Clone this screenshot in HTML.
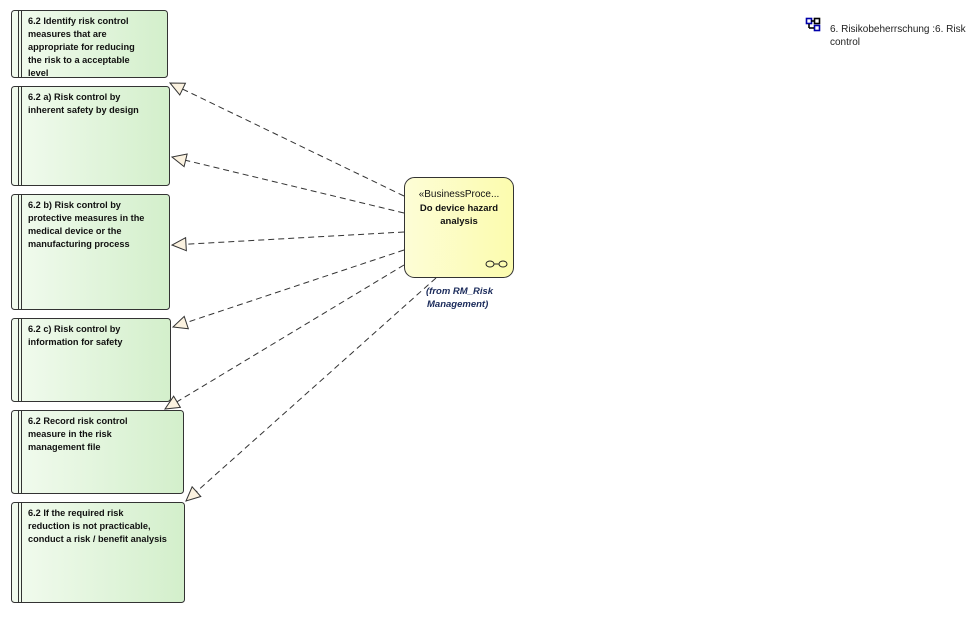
<!DOCTYPE html>
<html><head><meta charset="utf-8"><style>
body{margin:0;background:#fff;width:979px;height:612px;overflow:hidden;font-family:"Liberation Sans",sans-serif}
</style></head><body>
<svg width="979" height="612" xmlns="http://www.w3.org/2000/svg" font-family="Liberation Sans, sans-serif">
<defs>
<linearGradient id="g" x1="0" x2="1" y1="0" y2="0"><stop offset="0" stop-color="#f2fbef"/><stop offset="1" stop-color="#d3efcb"/></linearGradient>
<linearGradient id="y" x1="0" x2="1" y1="0" y2="0"><stop offset="0" stop-color="#fdfdd6"/><stop offset="1" stop-color="#fcfcae"/></linearGradient>
<marker id="a" markerUnits="userSpaceOnUse" markerWidth="18" markerHeight="16" refX="16" refY="8" orient="auto"><path d="M2,1.5 L16,8 L2,14.5 Z" fill="#fbf2e0" stroke="#333" stroke-width="1"/></marker>
</defs>
<g fill="url(#g)" stroke="#333" stroke-width="1">
<rect x="11.5" y="10.5" width="156" height="67" rx="3"/>
<rect x="11.5" y="86.5" width="158" height="99" rx="3"/>
<rect x="11.5" y="194.5" width="158" height="115" rx="3"/>
<rect x="11.5" y="318.5" width="159" height="83" rx="3"/>
<rect x="11.5" y="410.5" width="172" height="83" rx="3"/>
<rect x="11.5" y="502.5" width="173" height="100" rx="3"/>
</g>
<g stroke="#333" stroke-width="1">
<line x1="18.5" y1="11" x2="18.5" y2="77"/><line x1="21.5" y1="11" x2="21.5" y2="77"/>
<line x1="18.5" y1="87" x2="18.5" y2="185"/><line x1="21.5" y1="87" x2="21.5" y2="185"/>
<line x1="18.5" y1="195" x2="18.5" y2="309"/><line x1="21.5" y1="195" x2="21.5" y2="309"/>
<line x1="18.5" y1="319" x2="18.5" y2="401"/><line x1="21.5" y1="319" x2="21.5" y2="401"/>
<line x1="18.5" y1="411" x2="18.5" y2="493"/><line x1="21.5" y1="411" x2="21.5" y2="493"/>
<line x1="18.5" y1="503" x2="18.5" y2="602"/><line x1="21.5" y1="503" x2="21.5" y2="602"/>
</g>
<g font-size="9.2" font-weight="bold" fill="#111">
<text x="28" y="24">6.2 Identify risk control</text><text x="28" y="37">measures that are</text><text x="28" y="50">appropriate for reducing</text><text x="28" y="63">the risk to a acceptable</text><text x="28" y="76">level</text>
<text x="28" y="100">6.2 a) Risk control by</text><text x="28" y="113">inherent safety by design</text>
<text x="28" y="208">6.2 b) Risk control by</text><text x="28" y="221">protective measures in the</text><text x="28" y="234">medical device or the</text><text x="28" y="247">manufacturing process</text>
<text x="28" y="332">6.2 c) Risk control by</text><text x="28" y="345">information for safety</text>
<text x="28" y="424">6.2 Record risk control</text><text x="28" y="437">measure in the risk</text><text x="28" y="450">management file</text>
<text x="28" y="516">6.2 If the required risk</text><text x="28" y="529">reduction is not practicable,</text><text x="28" y="542">conduct a risk / benefit analysis</text>
</g>
<g stroke="#333" stroke-width="1" stroke-dasharray="6,4" fill="none" marker-end="url(#a)">
<line x1="404" y1="196" x2="170" y2="83"/>
<line x1="404" y1="213" x2="172" y2="157"/>
<line x1="404" y1="232" x2="172" y2="245"/>
<line x1="404" y1="250" x2="173" y2="327"/>
<line x1="404" y1="265" x2="165" y2="409"/>
<line x1="436" y1="278" x2="186" y2="501"/>
</g>
<rect x="404.5" y="177.5" width="109" height="100" rx="10" fill="url(#y)" stroke="#333"/>
<text x="459" y="197" font-size="10" text-anchor="middle" fill="#111">«BusinessProce...</text>
<text x="459" y="211" font-size="9.5" font-weight="bold" text-anchor="middle" fill="#111">Do device hazard</text>
<text x="459" y="224" font-size="9.5" font-weight="bold" text-anchor="middle" fill="#111">analysis</text>
<g fill="none" stroke="#222" stroke-width="1"><ellipse cx="490" cy="264" rx="4" ry="3"/><ellipse cx="503" cy="264" rx="4" ry="3"/><line x1="494" y1="264" x2="499" y2="264"/></g>
<text x="426" y="294" font-size="9.5" font-style="italic" font-weight="bold" fill="#1a2a5a">(from RM_Risk</text>
<text x="427" y="307" font-size="9.5" font-style="italic" font-weight="bold" fill="#1a2a5a">Management)</text>
<g stroke="#00a" fill="#fff" stroke-width="1.6"><rect x="806.5" y="18.5" width="5" height="5"/><rect x="814.5" y="25.5" width="5" height="5"/></g>
<g stroke="#000" fill="#fff" stroke-width="1.6"><rect x="814.5" y="18.5" width="5" height="5"/><line x1="811" y1="21" x2="814" y2="21"/><line x1="809" y1="24" x2="809" y2="28"/><line x1="809" y1="28" x2="814" y2="28"/></g>
<text x="830" y="32" font-size="10" fill="#222">6. Risikobeherrschung :6. Risk</text>
<text x="830" y="45" font-size="10" fill="#222">control</text>
</svg>
</body></html>
